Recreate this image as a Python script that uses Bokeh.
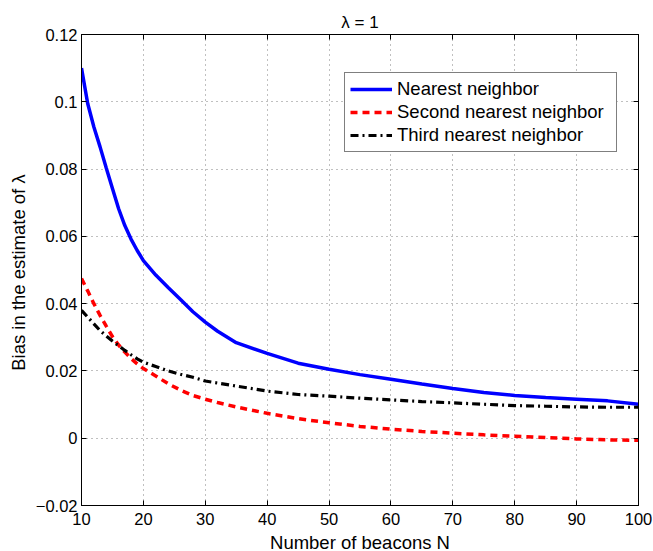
from bokeh.plotting import figure
from bokeh.models import Range1d, LinearAxis, FixedTicker, CustomJSTickFormatter
from bokeh.embed import file_html
from bokeh.resources import INLINE

# ---- data ----
n_beacons = [10, 11, 12, 13, 14, 15, 16, 17, 18, 19, 20, 22, 24, 26, 28, 30, 32, 35,
             40, 45, 50, 55, 60, 65, 70, 75, 80, 85, 90, 95, 100]
nearest = [0.1100, 0.0995, 0.0925, 0.0866, 0.0803, 0.0742, 0.0682, 0.0632, 0.0592, 0.0558,
           0.0528, 0.0485, 0.0448, 0.0412, 0.0376, 0.0345, 0.0318, 0.0284, 0.0252, 0.0223,
           0.0205, 0.0189, 0.0175, 0.0161, 0.0148, 0.0136, 0.0127, 0.0121, 0.0116, 0.0111,
           0.0101]
second = [0.0475, 0.0438, 0.0400, 0.0365, 0.0333, 0.0302, 0.0277, 0.0256, 0.0237, 0.0221,
          0.0207, 0.0185, 0.0162, 0.0143, 0.0127, 0.0116, 0.0106, 0.0093, 0.0074, 0.0058,
          0.0046, 0.0035, 0.0027, 0.0020, 0.0015, 0.0010, 0.0006, 0.0002, -0.0002, -0.0005,
          -0.0006]
third = [0.0380, 0.0360, 0.0340, 0.0320, 0.0304, 0.0289, 0.0275, 0.0261, 0.0248, 0.0236,
         0.0226, 0.0213, 0.0200, 0.0190, 0.0181, 0.0170, 0.0164, 0.0155, 0.0140, 0.0130,
         0.0125, 0.0119, 0.0114, 0.0109, 0.0105, 0.0101, 0.0097, 0.0095, 0.0093, 0.0092,
         0.0092]
x_ticks = [10, 20, 30, 40, 50, 60, 70, 80, 90, 100]
y_ticks = [-0.02, 0, 0.02, 0.04, 0.06, 0.08, 0.1, 0.12]
series_labels = ["Nearest neighbor", "Second nearest neighbor", "Third nearest neighbor"]
title_text = "λ = 1"
x_label = "Number of beacons N"
y_label = "Bias in the estimate of  λ"

FONT = "Liberation Sans"

p = figure(frame_width=557, frame_height=471, output_backend="svg", toolbar_location=None,
           x_range=Range1d(10, 100), y_range=Range1d(-0.02, 0.12),
           min_border_left=81, min_border_right=15, min_border_top=34, min_border_bottom=46)
p.background_fill_color = "white"
p.border_fill_color = "white"
p.outline_line_color = "black"
p.outline_line_width = 1

p.title.text = title_text
p.title.align = "center"
p.title.text_font = FONT
p.title.text_font_size = "17px"
p.title.text_font_style = "normal"
p.title.text_color = "black"
p.title.standoff = 5

fmt = CustomJSTickFormatter(code="""
if (Math.abs(tick) < 1e-12) return "0";
var s = Math.abs(tick).toFixed(2).replace(/0+$/, "").replace(/\\.$/, "");
return (tick < 0 ? "\\u2212" : "") + s;
""")

for ax in (p.xaxis[0], p.yaxis[0]):
    ax.major_tick_in = 5
    ax.major_tick_out = 0
    ax.minor_tick_line_color = None
    ax.major_label_text_font = FONT
    ax.major_label_text_font_size = "16.5px"
    ax.major_label_text_color = "black"
    ax.axis_label_text_font = FONT
    ax.axis_label_text_font_size = "18.5px"
    ax.axis_label_text_font_style = "normal"
    ax.axis_label_text_color = "black"
    ax.axis_line_color = "black"
    ax.major_tick_line_color = "black"

p.xaxis[0].ticker = FixedTicker(ticks=x_ticks)
p.yaxis[0].ticker = FixedTicker(ticks=y_ticks)
p.yaxis[0].formatter = fmt
p.xaxis[0].axis_label = x_label
p.yaxis[0].axis_label = y_label
p.xaxis[0].major_label_standoff = 7
p.xaxis[0].axis_label_standoff = 4
p.yaxis[0].major_label_standoff = 4
p.yaxis[0].axis_label_standoff = 4

empty = CustomJSTickFormatter(code="return '';")
for loc, ticks in (("right", y_ticks), ("above", x_ticks)):
    ax = LinearAxis(ticker=FixedTicker(ticks=ticks), formatter=empty,
                    major_tick_in=5, major_tick_out=0, minor_tick_line_color=None,
                    major_label_standoff=0, axis_line_color="black",
                    major_tick_line_color="black")
    p.add_layout(ax, loc)

p.xgrid.ticker = FixedTicker(ticks=x_ticks)
p.ygrid.ticker = FixedTicker(ticks=y_ticks)
for g in (p.xgrid, p.ygrid):
    g.grid_line_color = "#808080"
    g.grid_line_dash = "1 4"
    g.grid_line_width = 1

p.line(n_beacons, nearest, line_color="#0000ff", line_width=3.5, legend_label=series_labels[0])
p.line(n_beacons, second, line_color="#ff0000", line_width=3.5, line_dash="7 5",
       legend_label=series_labels[1])
p.line(n_beacons, third, line_color="black", line_width=3.2, line_dash="8 4 2 4",
       legend_label=series_labels[2])

lg = p.legend[0]
lg.location = (263, 353)
lg.margin = 0
lg.padding = 5
lg.spacing = 1
lg.glyph_width = 42
lg.glyph_height = 20
lg.label_height = 20
lg.label_width = 214
lg.label_standoff = 5
lg.label_text_font = FONT
lg.label_text_font_size = "18.5px"
lg.label_text_color = "black"
lg.border_line_color = "black"
lg.border_line_width = 1
lg.background_fill_alpha = 1
lg.background_fill_color = "white"

open("out.html", "w").write(file_html(p, INLINE))
